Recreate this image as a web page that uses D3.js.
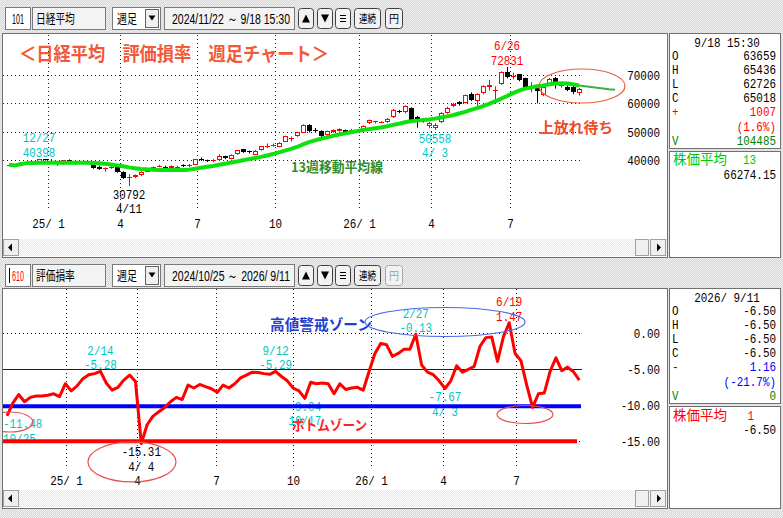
<!DOCTYPE html>
<html><head><meta charset="utf-8">
<script src="https://cdn.jsdelivr.net/npm/d3@7"></script>
<style>body{margin:0;background:#e0e0e0;}svg{display:block}</style>
</head><body>
<svg id="c" width="783" height="518"></svg>
<script>
// ---------------- DATA ----------------
// Top chart: Nikkei weekly candles, 2024/11/22 .. 2026/9/18 (96 weeks)
const topOpen = [
 38150,38150,38600,39300,39400,38900,40300,39700,39100,38500,
 39900,39400,38800,39200,38700,37400,36700,37100,37700,35600,
 33700,33900,34700,35900,37300,37700,37650,37100,37600,38200,
 38000,38300,40500,39900,39800,40000,41400,40300,42000,43800,
 43100,41800,43500,44800,45300,44700,46500,47300,48500,49700,
 52300,50600,50300,48700,50000,50300,50600,50000,50600,50600,
 52900,53300,53300,53300,55100,57400,56800,58300,55300,54300,
 52000,51300,53300,56500,59000,60400,60200,63400,60700,63500,
 65800,64300,66700,71200,69500,70200,68800,65900,65300,63000,
 67000,68800,66000,65900,65700,63659];
const topHigh = [
 38500,38500,39300,39900,39500,40398,40300,40300,39300,40000,
 40200,39600,39500,39500,38800,38000,37400,37900,38200,36000,
 35000,34900,36000,36900,37700,38300,38000,38100,38000,38500,
 38600,40400,40850,40100,40300,42000,41500,42000,43500,43900,
 43300,43500,45000,45850,45800,46300,48600,48300,50000,52600,
 52600,51300,50500,50300,50800,51200,50700,51000,50700,52200,
 54300,53800,53700,54800,58000,57700,59300,58600,55600,54700,
 53400,53000,56900,58800,60200,60800,63100,63900,63500,66400,
 68300,66000,71300,72831,70800,70400,69000,67500,65600,66300,
 69000,69300,67000,66300,66300,65436];
const topLow = [
 37900,37900,38400,39000,38300,38800,39800,39100,38000,38200,
 39200,38400,38700,38500,36900,36500,35900,36900,35500,33300,
 30792,33600,34300,35700,36900,37400,36900,36900,37300,37500,
 37500,38200,39700,39300,39300,39800,40300,40200,41800,42500,
 42300,41700,43300,44200,44700,44500,46400,46500,48200,49500,
 49700,49900,48100,48500,49600,50000,49100,49800,50000,50400,
 52700,52900,53000,53100,54800,56500,56500,54000,51400,53200,
 51200,50558,53000,56300,58700,59200,60000,60800,59000,63200,
 64500,61000,66500,68800,68500,67800,65500,63900,60000,62500,
 66700,65200,65500,64300,63200,62726];
const topClose = [
 38280,38210,39090,39470,38700,40281,39894,39190,38451,39931,
 39572,38787,39149,38776,37155,36887,37053,37677,35617,33780,
 34000,34700,35800,36500,37500,37800,37100,38000,37700,37800,
 38400,40200,40000,39600,40000,41500,40800,41800,43400,42850,
 42700,43100,44800,45050,45400,46000,48400,47600,49900,52400,
 50300,50400,48600,50250,50500,50800,49500,50750,50300,52000,
 54000,53600,53500,54600,57800,56800,59000,54200,53300,53600,
 53000,52500,56600,58400,59600,59600,62800,61300,63200,66100,
 66500,64800,71100,69200,69700,68300,65900,66200,64200,65800,
 68700,67000,66500,64800,64011,65018];
// 13-week moving average as drawn
const topMA = [
 38300,38100,38600,38900,38950,39000,39000,39000,39000,39000,
 39000,39000,39000,39000,38950,38850,38650,38400,38100,37800,
 37400,37100,36850,36700,36600,36500,36500,36500,36500,36500,
 36600,36900,37300,37600,37900,38300,38700,39100,39500,39900,
 40300,40700,41100,41600,42100,42700,43300,43900,44600,45500,
 46300,46900,47500,48000,48500,49000,49400,49800,50200,50600,
 50900,51200,51500,51900,52400,52800,53300,53700,53900,54100,
 54300,54600,55000,55400,55800,56400,57000,57700,58300,59000,
 59800,60700,61600,62600,63600,64500,65200,65600,66000,66300,
 66700,67000,67100,67000,66700,66274];
const topMAProjIdx = [95,96,97,98,99,100,101];
const topMAProj = [66274,66000,65750,65500,65250,65000,64800];
const topYTicks = [70000,60000,50000,40000];
const topMonthIdx = [6.5,18.5,31.3,44.3,58.3,70.3,83.5];
const monthLabels = ["25/ 1","4","7","10","26/ 1","4","7"];

// Bottom chart: 評価損率 weekly, 2024/10/25 .. 2026/9/11 (99 weeks)
const lossRate = [
 -11.48,-9.7,-8.5,-9.5,-8.9,-8.7,-8.7,-8.6,-8.4,-8.8,
 -7.0,-8.0,-7.3,-6.3,-5.75,-5.6,-5.28,-6.9,-7.9,-7.5,
 -6.5,-5.8,-6.7,-15.31,-12.7,-11.5,-10.9,-10.3,-9.5,-8.9,
 -9.2,-7.2,-7.6,-7.1,-7.4,-7.7,-8.2,-7.2,-7.6,-7.0,
 -6.2,-5.8,-5.4,-5.45,-5.6,-5.7,-5.29,-6.0,-6.6,-7.6,
 -8.0,-9.04,-6.8,-7.0,-6.9,-7.0,-8.4,-7.0,-7.8,-7.6,
 -7.5,-7.9,-5.3,-2.8,-1.4,-1.6,-3.2,-2.8,-2.2,-2.2,
 -0.13,-4.4,-5.4,-5.75,-6.6,-7.67,-6.6,-4.5,-5.4,-5.0,
 -4.6,-1.8,-0.6,-0.5,-3.9,-0.5,1.47,-2.8,-3.8,-7.2,
 -10.3,-8.4,-8.3,-5.3,-3.4,-5.2,-4.7,-5.34,-6.50];
const botYTicks = [0,-5,-10,-15];
const botYTickLabels = ["0.00","-5.00","-10.00","-15.00"];
const botMonthIdx = [10.1,22.3,35.8,49,62.3,74.7,87.2];
const zoneHigh = -5, zoneWarn = -10, zoneBottom = -15;

// info panels
const topInfoDate = "9/18 15:30";
const topInfoKeys = ["O","H","L","C"];
const topInfoVals = ["63659","65436","62726","65018"];
const topChange = ["+","1007","(1.6%)"];
const topVol = ["V","104485"];
const topMAInfo = ["株価平均","13","66274.15"];
const botInfoDate = "2026/ 9/11";
const botInfoVals = ["-6.50","-6.50","-6.50","-6.50"];
const botChange = ["-","1.16","(-21.7%)"];
const botVol = ["V","0"];
const botMAInfo = ["株価平均","1","-6.50"];

// ---------------- DRAW ----------------
const CYAN="#00c4c4", RED="#ff0000", MONO="Liberation Mono, DejaVu Sans Mono, monospace", JP="Noto Sans CJK JP, sans-serif";
const FS=13, SX=0.84;
const svg=d3.select("#c");
const defs=svg.append("defs");
function dither(id,a,b){const p=defs.append("pattern").attr("id",id).attr("width",2).attr("height",2).attr("patternUnits","userSpaceOnUse");
 p.append("rect").attr("width",2).attr("height",2).attr("fill",a);
 p.append("rect").attr("width",1).attr("height",1).attr("fill",b);
 p.append("rect").attr("x",1).attr("y",1).attr("width",1).attr("height",1).attr("fill",b);}
dither("bg","#d8d8d8","#eeeeee");
dither("trk","#e6e6e6","#ffffff");
svg.append("rect").attr("width",783).attr("height",518).attr("fill","url(#bg)");

function mtext(g,x,y,s,fill,anchor,size){
 g.append("text").attr("transform",`translate(${x},${y}) scale(${SX},1)`).attr("text-anchor",anchor||"start")
  .attr("font-family",MONO).attr("font-size",size||FS).attr("fill",fill||"#000").text(s);}
function fitText(g,x1,x2,y,s,size,fill,family,weight){
 g.append("text").attr("x",x1).attr("y",y).attr("textLength",x2-x1).attr("lengthAdjust","spacingAndGlyphs")
  .attr("font-family",family||JP).attr("font-size",size).attr("font-weight",weight||"normal").attr("fill",fill||"#000").text(s);}
function box(x,y,w,h,fill,stroke,rx){svg.append("rect").attr("x",x+.5).attr("y",y+.5).attr("width",w).attr("height",h)
 .attr("fill",fill).attr("stroke",stroke||"#808080").attr("rx",rx||0);}

function toolbar(y,code,codeColor,name,dates,yenOff){
 box(5,y,25,22,"#fff","#7a7a7a");
 fitText(svg,12,24,y+17,code,14,codeColor,"Liberation Sans");
 if(codeColor!=="#000") svg.append("line").attr("x1",9.5).attr("x2",9.5).attr("y1",y+4).attr("y2",y+19).attr("stroke","#000");
 box(32,y,73,22,"#f3f3f3","#7a7a7a");
 fitText(svg,36,36+name.length*9.7,y+16,name,13,"#000");
 box(112,y,48,22,"#fff","#7a7a7a");
 fitText(svg,117,137,y+16,"週足",13,"#000");
 box(145,y+2,13,18,"#f0f0f0","#606060");
 svg.append("path").attr("d",`M148.5,${y+8.5}h7l-3.5,5z`).attr("fill","#000");
 box(164,y,130,22,"#f3f3f3","#7a7a7a");
 fitText(svg,172,290,y+17,dates,14.5,"#000","Liberation Sans");
 const bx=[[298,15],[317,15],[335,15],[354,26],[385,17]];
 bx.forEach(([x,w],k)=>{
  const dis = (k===4&&yenOff);
  box(x,y+1,w,20,"#f2f2f2",dis?"#a8a8a8":"#404040",3);
  const cx=x+w/2+.5, cy=y+11.5;
  if(k===0) svg.append("path").attr("d",`M${cx-4},${cy+4}h8l-4,-8z`).attr("fill","#000");
  if(k===1) svg.append("path").attr("d",`M${cx-4},${cy-4}h8l-4,8z`).attr("fill","#000");
  if(k===2) [-3,0,3].forEach(d=>svg.append("line").attr("x1",cx-3).attr("x2",cx+3).attr("y1",cy+d).attr("y2",cy+d).attr("stroke","#000"));
  if(k===3) fitText(svg,x+5,x+w-4,y+16,"連続",11,"#000");
  if(k===4) fitText(svg,x+4,x+w-3,y+16,"円",11,dis?"#a0a0a0":"#000");
 });
}
toolbar(7,"101","#000","日経平均","2024/11/22 ～  9/18 15:30",false);
toolbar(264,"610","#ff0000","評価損率","2024/10/25 ～  2026/ 9/11",true);

function scrollbar(y){
 svg.append("rect").attr("x",3).attr("y",y).attr("width",664).attr("height",17).attr("fill","url(#trk)");
 box(3,y,15,16,"#f0f0f0","#a0a0a0");
 svg.append("path").attr("d",`M8,${y+8.5}l4,-4v8z`).attr("fill","#000");
 box(635,y,13,16,"#f0f0f0","#a0a0a0");
 box(650,y,15,16,"#f0f0f0","#a0a0a0");
 svg.append("path").attr("d",`M661,${y+8.5}l-4,-4v8z`).attr("fill","#000");
}
// frames
box(2,33,665,224,"#fff","#707070");
box(2,288,665,220,"#fff","#707070");
scrollbar(239); scrollbar(490);
box(669,33,111,115,"#fff","#707070");
box(669,151,111,106,"#fff","#707070");
box(669,288,111,115,"#fff","#707070");
box(669,406,111,102,"#fff","#707070");

// ---------- top chart ----------
const xT=d3.scaleLinear().domain([0,95]).range([9,579]);
const yT=d3.scaleLinear().domain([40000,70000]).range([160,75]);
defs.append("clipPath").attr("id","ct").append("rect").attr("x",3).attr("y",34).attr("width",664).attr("height",204);
const gT=svg.append("g").attr("clip-path","url(#ct)");
topYTicks.forEach(v=>gT.append("line").attr("x1",3).attr("x2",582).attr("y1",Math.round(yT(v))+.5).attr("y2",Math.round(yT(v))+.5)
 .attr("stroke","#0000ff").attr("stroke-dasharray","1,3"));
topMonthIdx.forEach((m,k)=>{const x=Math.round(xT(m))+.5;
 gT.append("line").attr("x1",x).attr("x2",x).attr("y1",35).attr("y2",210).attr("stroke","#0000ff").attr("stroke-dasharray","1,3");
 mtext(gT,x,228,monthLabels[k],"#000","middle");});
topYTicks.forEach(v=>mtext(gT,660,yT(v)+5,String(v),"#000","end"));
// title
fitText(gT,19,329,61,"＜日経平均　評価損率　週足チャート＞",19,"#f2583a",JP,"bold");
// candles
topOpen.forEach((o,i)=>{
 const c=topClose[i],h=topHigh[i],l=topLow[i];
 const x=Math.round(xT(i)); const up=c>=o; const col=up?RED:"#000";
 gT.append("line").attr("x1",x+.5).attr("x2",x+.5).attr("y1",yT(h)).attr("y2",yT(l)).attr("stroke",col);
 const y1=Math.round(yT(Math.max(o,c))), y2=Math.round(yT(Math.min(o,c)));
 if(y2-y1<2){ gT.append("line").attr("x1",x-2).attr("x2",x+3).attr("y1",y1+.5).attr("y2",y1+.5).attr("stroke",col);}
 else if(up){ gT.append("rect").attr("x",x-1.5).attr("y",y1+.5).attr("width",4).attr("height",y2-y1-1).attr("fill","#fff").attr("stroke",RED);}
 else { gT.append("rect").attr("x",x-2).attr("y",y1).attr("width",5).attr("height",y2-y1).attr("fill","#000");}
});
// moving average
gT.append("path").datum(topMA).attr("d",d3.line().x((d,i)=>xT(i)).y(d=>yT(d)))
 .attr("fill","none").attr("stroke","#0ee00e").attr("stroke-width",4).attr("stroke-linejoin","round");
gT.append("path").datum(topMAProj).attr("d",d3.line().x((d,i)=>xT(topMAProjIdx[i])).y(d=>yT(d)))
 .attr("fill","none").attr("stroke","#3cb03c").attr("stroke-width",2);
// notes
function notes(g,xs,ys,list){
 list.forEach(n=>{const xc=xs(n.i), yv=ys(n.v);
  const bl = n.side==="above"?[yv-16.5,yv-2]:[yv+12.5,yv+27];
  n.lines.forEach((s,k)=>{const w=s.length*FS*0.6*SX; const cx=Math.max(xc,3+w/2); mtext(g,cx,bl[k],s,n.color,"middle");});
 });}
notes(gT,xT,yT,[
 {i:5,v:40398,lines:["12/27","40398"],color:CYAN,side:"above"},
 {i:20,v:30792,lines:["30792","4/11"],color:"#000",side:"below"},
 {i:71,v:50558,lines:["50558","4/ 3"],color:CYAN,side:"below"},
 {i:83,v:72831,lines:["6/26","72831"],color:RED,side:"above"}]);
fitText(gT,291,383,172,"13週移動平均線",13.5,"#2e8e2e",JP,"bold");
fitText(gT,539,613,133,"上放れ待ち",15,"#f04a28",JP,"bold");
gT.append("ellipse").attr("cx",xT(95.5)).attr("cy",yT(66118)).attr("rx",43).attr("ry",17)
 .attr("fill","none").attr("stroke","#e8603c").attr("stroke-width",1.2);

// ---------- bottom chart ----------
const xB=d3.scaleLinear().domain([0,98]).range([7,579.3]);
const yB=d3.scaleLinear().domain([-15,0]).range([441.3,333.3]);
defs.append("clipPath").attr("id","cb").append("rect").attr("x",3).attr("y",289).attr("width",664).attr("height",200);
const gB=svg.append("g").attr("clip-path","url(#cb)");
botYTicks.forEach(v=>gB.append("line").attr("x1",3).attr("x2",582).attr("y1",Math.round(yB(v))+.5).attr("y2",Math.round(yB(v))+.5)
 .attr("stroke","#0000ff").attr("stroke-dasharray","1,3"));
botMonthIdx.forEach((m,k)=>{const x=Math.round(xB(m))+.5;
 gB.append("line").attr("x1",x).attr("x2",x).attr("y1",289).attr("y2",467).attr("stroke","#0000ff").attr("stroke-dasharray","1,3");
 mtext(gB,x,485,monthLabels[k],"#000","middle");});
botYTicks.forEach((v,k)=>mtext(gB,660,yB(v)+5,botYTickLabels[k],"#000","end"));
gB.append("line").attr("x1",3).attr("x2",582).attr("y1",Math.round(yB(zoneHigh))+.5).attr("y2",Math.round(yB(zoneHigh))+.5).attr("stroke","#0000ff");
notes(gB,xB,yB,[
 {i:0,v:-11.48,lines:["-11.48","10/25"],color:CYAN,side:"below"},
 {i:16,v:-5.28,lines:["2/14","-5.28"],color:CYAN,side:"above"},
 {i:23,v:-15.31,lines:["-15.31","4/ 4"],color:"#000",side:"below"},
 {i:46,v:-5.29,lines:["9/12","-5.29"],color:CYAN,side:"above"},
 {i:51,v:-9.04,lines:["-9.04","10/17"],color:CYAN,side:"below"},
 {i:70,v:-0.13,lines:["2/27","-0.13"],color:CYAN,side:"above"},
 {i:75,v:-7.67,lines:["-7.67","4/ 3"],color:CYAN,side:"below"},
 {i:86,v:1.47,lines:["6/19","1.47"],color:RED,side:"above"}]);
gB.append("line").attr("x1",3).attr("x2",581).attr("y1",yB(zoneWarn)+1).attr("y2",yB(zoneWarn)+1).attr("stroke","#0000ff").attr("stroke-width",4);
gB.append("line").attr("x1",3).attr("x2",577).attr("y1",yB(zoneBottom)).attr("y2",yB(zoneBottom)).attr("stroke","#ff0000").attr("stroke-width",4);
fitText(gB,270,372,330,"高値警戒ゾーン",15,"#1f3fd0",JP,"bold");
fitText(gB,292,367,430,"ボトムゾーン",14,"#ff2020",JP,"bold");
gB.append("path").datum(lossRate).attr("d",d3.line().x((d,i)=>xB(i)).y(d=>yB(d)))
 .attr("fill","none").attr("stroke","#ff0000").attr("stroke-width",3).attr("stroke-linejoin","round");
[[0.5,-12.32,23,10,"#e85050"],[21.4,-17.87,44,20,"#e85050"],[88.7,-11.28,28,9,"#e85050"],[75,1.57,80,14.5,"#4a68e8"]]
 .forEach(([j,v,rx,ry,col])=>gB.append("ellipse").attr("cx",xB(j)).attr("cy",yB(v)).attr("rx",rx).attr("ry",ry)
 .attr("fill","none").attr("stroke",col).attr("stroke-width",1.2));

// ---------- info panels ----------
function panel(y0,date,vals,chg,chgCol,vol){
 mtext(svg,727,y0+14,date,"#000","middle");
 topInfoKeys.forEach((k,r)=>{const b=y0+27+r*14.1; mtext(svg,672,b,k); mtext(svg,776,b,vals[r],"#000","end");});
 mtext(svg,672,y0+27+4*14.1,chg[0],chgCol); mtext(svg,776,y0+27+4*14.1,chg[1],chgCol,"end");
 mtext(svg,776,y0+27+5*14.1,chg[2],chgCol,"end");
 mtext(svg,672,y0+27+6*14.1,vol[0],"#008000"); mtext(svg,776,y0+27+6*14.1,vol[1],"#008000","end");
}
panel(33,topInfoDate,topInfoVals,topChange,RED,topVol);
panel(288,botInfoDate,botInfoVals,botChange,"#0000ff",botVol);
fitText(svg,673,727,163.5,topMAInfo[0],13.5,"#00c800");
mtext(svg,756,163.5,topMAInfo[1],"#00c800","end");
mtext(svg,776,178.5,topMAInfo[2],"#000","end");
fitText(svg,673,727,420,botMAInfo[0],13.5,"#ff0000");
mtext(svg,754,420,botMAInfo[1],"#ff0000","end");
mtext(svg,776,434,botMAInfo[2],"#000","end");
</script>
</body></html>
